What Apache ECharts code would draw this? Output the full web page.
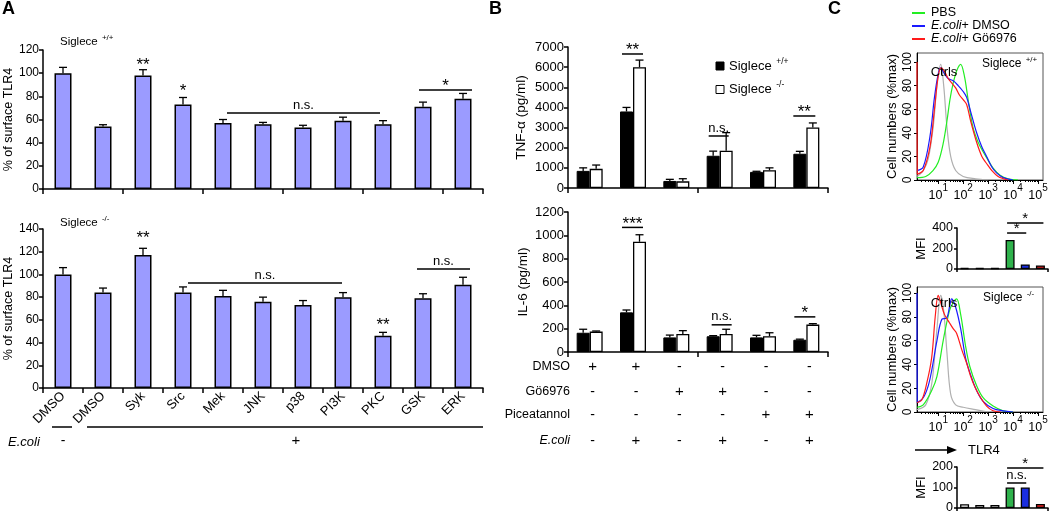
<!DOCTYPE html>
<html><head><meta charset="utf-8">
<script src="https://cdn.jsdelivr.net/npm/echarts@6/dist/echarts.min.js"></script>
<style>html,body{margin:0;padding:0;background:#fff}#c{width:1050px;height:513px}</style>
</head><body><div id="c"></div>
<script>
// ---------------- DATA ----------------
// Panel A: % of surface TLR4
const inhibitors = ['DMSO','DMSO','Syk','Src','Mek','JNK','p38','PI3K','PKC','GSK','ERK'];
const tlr4WT    = [100, 54, 98, 73, 57, 56, 53, 59, 56, 71, 78];
const tlr4WTErr = [5, 1.5, 5, 6, 3, 1.5, 2, 3, 3, 4, 4.5];
const tlr4KO    = [100, 84, 117, 84, 81, 76, 73, 80, 46, 79, 91];
const tlr4KOErr = [6, 4, 6, 5, 5, 4, 4, 4, 3, 4, 6.5];
const ecoliA    = ['-', '+'];

// Panel B: cytokines
const conditions = ['DMSO','DMSO+E.coli','Gö6976','Gö6976+E.coli','Piceatannol','Piceatannol+E.coli'];
const tnfWT    = [850, 3800, 350, 1600, 800, 1700];
const tnfWTErr = [150, 200, 80, 230, 30, 120];
const tnfKO    = [950, 6000, 330, 1850, 880, 3000];
const tnfKOErr = [190, 350, 130, 900, 120, 230];
const il6WT    = [165, 340, 125, 135, 125, 105];
const il6WTErr = [30, 20, 20, 5, 18, 5];
const il6KO    = [175, 945, 155, 155, 135, 235];
const il6KOErr = [5, 60, 28, 40, 30, 8];
const rowDMSO  = ['+','+','-','-','-','-'];
const rowGo    = ['-','-','+','+','-','-'];
const rowPice  = ['-','-','-','-','+','+'];
const rowEcoli = ['-','+','-','+','-','+'];

// Panel C: flow histograms, x = log10(TLR4), y = % max
const decadeTicks = [1, 2, 3, 4, 5];
const pctTicks = [0, 20, 40, 60, 80, 100];
const histWTgray  = [[0.15,3],[0.4,8],[0.6,18],[0.8,45],[0.95,80],[1.1,98],[1.22,80],[1.35,45],[1.5,20],[1.7,8],[2.0,3],[2.5,1],[3.0,0]];
const histWTblue  = [[0.15,8],[0.4,11],[0.67,37],[0.85,70],[1.0,90],[1.1,95],[1.25,90],[1.4,86],[1.6,84],[1.8,80],[2.0,75],[2.14,70],[2.3,58],[2.54,40],[2.75,28],[2.94,20],[3.15,11],[3.34,6],[3.6,2],[4.0,0]];
const histWTred   = [[0.15,100],[0.16,5],[0.4,8],[0.67,28],[0.85,60],[1.0,88],[1.12,95],[1.25,92],[1.4,86],[1.55,82],[1.7,78],[1.85,72],[2.0,68],[2.14,64],[2.3,50],[2.54,32],[2.75,20],[2.94,14],[3.15,8],[3.4,3],[3.8,0]];
const histWTgreen = [[0.15,2],[0.5,3],[0.79,8],[1.0,15],[1.2,31],[1.35,50],[1.47,68],[1.6,82],[1.75,93],[1.9,98],[2.05,88],[2.2,68],[2.39,45],[2.6,32],[2.8,24],[2.94,19],[3.2,10],[3.48,4],[3.8,1],[4.2,0]];
const histKOgray  = [[0.15,2],[0.5,6],[0.75,25],[0.95,70],[1.1,98],[1.22,85],[1.35,50],[1.5,15],[1.7,6],[2.0,4],[2.5,2],[3.0,0]];
const histKOred   = [[0.15,8],[0.34,10],[0.55,25],[0.74,46],[0.88,80],[1.0,98],[1.1,92],[1.25,82],[1.45,75],[1.6,70],[1.74,66],[1.95,52],[2.14,41],[2.3,30],[2.47,21],[2.7,12],[2.94,5],[3.2,1],[3.5,0]];
const histKOblue  = [[0.15,100],[0.16,8],[0.4,12],[0.6,22],[0.74,35],[0.95,60],[1.15,78],[1.34,79],[1.45,88],[1.54,95],[1.7,88],[1.9,70],[2.1,45],[2.27,33],[2.54,18],[2.8,9],[3.2,3],[3.6,1],[4.0,0]];
const histKOgreen = [[0.15,4],[0.4,6],[0.74,18],[0.95,30],[1.2,60],[1.45,85],[1.6,92],[1.74,95],[1.9,82],[2.1,55],[2.27,38],[2.54,22],[2.8,12],[3.2,5],[3.6,1],[4.0,0]];
const mfiCats = ['ctrl1','ctrl2','ctrl3','PBS','E.coli+DMSO','E.coli+Gö6976'];
const mfiWT = [10, 10, 10, 283, 45, 35];
const mfiKO = [18, 15, 15, 100, 100, 20];

// ---------------- STYLE ----------------
const FONT = '"Liberation Sans", Arial, Helvetica, sans-serif';
const mfiColors = ['#ffffff','#ffffff','#ffffff','#2fb24c','#1a2ee0','#e82020'];
const minorTicks = [];
for (let d = 0; d < 5; d++) for (let k = 2; k <= 9; k++) { const v = d + Math.log10(k); if (v > 0.15 && v < 5.2) minorTicks.push(v); }

const chart = echarts.init(document.getElementById('c'), null, {renderer:'canvas', width:1050, height:513});

function grid(l, t, w, h, extra) {
  return Object.assign({left:l, top:t, width:w, height:h, containLabel:false, outerBoundsMode:'none'}, extra || {});
}
const blackLine = {color:'#000', width:1.5};
function catX(g, data, extra) {
  return Object.assign({type:'category', gridIndex:g, data:data, position:'bottom',
    axisLine:{show:true, lineStyle:blackLine}, axisTick:{show:true, length:5, lineStyle:blackLine},
    axisLabel:{show:false}, splitLine:{show:false}}, extra || {});
}
function valY(g, max, interval, name, nameGap, fs, extra) {
  return Object.assign({type:'value', gridIndex:g, min:0, max:max, interval:interval,
    splitLine:{show:false}, axisLine:{show:true, lineStyle:blackLine},
    axisTick:{show:true, length:4, lineStyle:blackLine},
    axisLabel:{color:'#000', fontSize:fs, fontFamily:FONT, margin:4, formatter:v => String(v)},
    name:name, nameLocation:'middle', nameGap:nameGap,
    nameTextStyle:{color:'#000', fontSize:fs + 0.5, fontFamily:FONT}}, extra || {});
}
function histX(g) {
  return {type:'value', gridIndex:g, position:'bottom', min:0.15, max:5.2, splitLine:{show:false},
    axisLine:{show:true, lineStyle:{color:'#000', width:1}},
    axisTick:{show:true, length:4, customValues:decadeTicks, lineStyle:{color:'#000'}},
    axisLabel:{show:true, customValues:decadeTicks, formatter:v => '{b|10}{s|' + Math.round(v) + '}',
      margin:3,
      rich:{b:{color:'#000', fontSize:12.5, fontFamily:FONT, lineHeight:19, verticalAlign:'bottom'},
            s:{color:'#000', fontSize:10, fontFamily:FONT, lineHeight:19, verticalAlign:'top'}}}};
}
function histMinorX(g) {
  return {type:'value', gridIndex:g, position:'bottom', min:0.15, max:5.2, splitLine:{show:false},
    axisLine:{show:false}, axisTick:{show:true, length:2, customValues:minorTicks, lineStyle:{color:'#000'}},
    axisLabel:{show:false}};
}
function histY(g, max) {
  return {type:'value', gridIndex:g, min:0, max:max, splitLine:{show:false},
    axisLine:{show:true, lineStyle:{color:'#000', width:1}},
    axisTick:{show:true, length:3, customValues:pctTicks, lineStyle:{color:'#000'}},
    axisLabel:{customValues:pctTicks, rotate:90, color:'#000', fontSize:12, fontFamily:FONT, margin:3},
    name:'Cell numbers (%max)', nameLocation:'middle', nameGap:18,
    nameTextStyle:{color:'#000', fontSize:13, fontFamily:FONT}};
}
function errBars(xi, yi, vals, errs, off, cap) {
  return {type:'custom', xAxisIndex:xi, yAxisIndex:yi, z:5, silent:true,
    data: vals.map((v, i) => [i, v, errs[i]]),
    renderItem: (params, api) => {
      const i = api.value(0), v = api.value(1), e = api.value(2);
      const a = api.coord([i, v]), b = api.coord([i, v + e]);
      const x = a[0] + off;
      const st = {stroke:'#000', lineWidth:1.3};
      return {type:'group', children:[
        {type:'line', shape:{x1:x, y1:a[1], x2:x, y2:b[1]}, style:st},
        {type:'line', shape:{x1:x - cap, y1:b[1], x2:x + cap, y2:b[1]}, style:st}]};
    }};
}
function histLine(xi, yi, data, color, z) {
  return {type:'line', xAxisIndex:xi, yAxisIndex:yi, data:data, smooth:0.35, symbol:'none', silent:true,
    z:z, lineStyle:{color:color, width:1.2}};
}
const boxed = {show:true, borderColor:'#555', borderWidth:1, backgroundColor:'transparent'};

const option = {
  animation:false,
  backgroundColor:'#fff',
  textStyle:{fontFamily:FONT},
  grid:[
    grid(43, 50, 440, 139),
    grid(43, 229, 440, 159),
    grid(568, 47, 260, 141),
    grid(568, 212, 260, 140),
    grid(917, 53, 126, 127, boxed),
    grid(957, 228, 91, 41),
    grid(917, 287, 126, 125, boxed),
    grid(957, 467, 91, 41)
  ],
  xAxis:[
    catX(0, inhibitors),
    catX(1, inhibitors, {axisLabel:{show:true, interval:0, rotate:45, color:'#000', fontSize:13, fontFamily:FONT, margin:6}}),
    catX(2, conditions),
    catX(3, conditions),
    histX(4), histMinorX(4),
    catX(5, mfiCats, {axisTick:{show:true, length:3, lineStyle:blackLine}}),
    histX(6), histMinorX(6),
    catX(7, mfiCats, {axisTick:{show:true, length:3, lineStyle:blackLine}})
  ],
  yAxis:[
    valY(0, 120, 20, '% of surface TLR4', 27, 12),
    valY(1, 140, 20, '% of surface TLR4', 27, 12),
    valY(2, 7000, 1000, 'TNF-α (pg/ml)', 40, 13),
    valY(3, 1200, 200, 'IL-6 (pg/ml)', 38, 13),
    histY(4, 107.6),
    valY(5, 400, 200, 'MFI', 28, 12.5, {axisTick:{show:true, length:3, lineStyle:blackLine}}),
    histY(6, 105),
    valY(7, 200, 100, 'MFI', 28, 12.5, {axisTick:{show:true, length:3, lineStyle:blackLine}})
  ],
  series:[
    {type:'bar', xAxisIndex:0, yAxisIndex:0, data:tlr4WT, barWidth:17, silent:true,
      itemStyle:{color:'#9b9bff', borderColor:'#000', borderWidth:1.5}},
    errBars(0, 0, tlr4WT, tlr4WTErr, 0, 4),
    {type:'bar', xAxisIndex:1, yAxisIndex:1, data:tlr4KO, barWidth:17, silent:true,
      itemStyle:{color:'#9b9bff', borderColor:'#000', borderWidth:1.5}},
    errBars(1, 1, tlr4KO, tlr4KOErr, 0, 4),

    {type:'bar', xAxisIndex:2, yAxisIndex:2, data:tnfWT, barWidth:13, barGap:'0%', silent:true,
      itemStyle:{color:'#000', borderColor:'#000', borderWidth:1}},
    {type:'bar', xAxisIndex:2, yAxisIndex:2, data:tnfKO, barWidth:13, barGap:'0%', silent:true,
      itemStyle:{color:'#fff', borderColor:'#000', borderWidth:1.3}},
    errBars(2, 2, tnfWT, tnfWTErr, -6.5, 4),
    errBars(2, 2, tnfKO, tnfKOErr, 6.5, 4),
    {type:'bar', xAxisIndex:3, yAxisIndex:3, data:il6WT, barWidth:13, barGap:'0%', silent:true,
      itemStyle:{color:'#000', borderColor:'#000', borderWidth:1}},
    {type:'bar', xAxisIndex:3, yAxisIndex:3, data:il6KO, barWidth:13, barGap:'0%', silent:true,
      itemStyle:{color:'#fff', borderColor:'#000', borderWidth:1.3}},
    errBars(3, 3, il6WT, il6WTErr, -6.5, 4),
    errBars(3, 3, il6KO, il6KOErr, 6.5, 4),

    histLine(4, 4, histWTgray, '#b0b0b0', 2),
    histLine(4, 4, histWTgreen, '#22ee22', 3),
    histLine(4, 4, histWTblue, '#1a1aff', 4),
    histLine(4, 4, histWTred, '#ff1a1a', 5),
    {type:'bar', xAxisIndex:6, yAxisIndex:5, barWidth:9, silent:true,
      data: mfiWT.map((v, i) => ({value:v, itemStyle:{color:mfiColors[i]}})),
      itemStyle:{borderColor:'#000', borderWidth:1.3}},
    histLine(7, 6, histKOgray, '#b0b0b0', 2),
    histLine(7, 6, histKOgreen, '#22ee22', 3),
    histLine(7, 6, histKOblue, '#1a1aff', 4),
    histLine(7, 6, histKOred, '#ff1a1a', 5),
    {type:'bar', xAxisIndex:9, yAxisIndex:7, barWidth:9, silent:true,
      data: mfiKO.map((v, i) => ({value:v, itemStyle:{color:mfiColors[i]}})),
      itemStyle:{borderColor:'#000', borderWidth:1.3}}
  ]
};
chart.setOption(option);

// ---------------- ANNOTATIONS ----------------
const mctx = document.createElement('canvas').getContext('2d');
function tw(t, font) { mctx.font = font; return mctx.measureText(t).width; }
function P(g, i, v) { return chart.convertToPixel({gridIndex:g}, [i, v]); }
const G = [];
function txt(x, y, t, size, opts) {
  opts = opts || {};
  G.push({type:'text', x:x, y:y, z:100, silent:true, style:Object.assign({text:t,
    font:(opts.style || '') + ' ' + size + 'px ' + FONT, fill:'#000',
    textAlign:opts.align || 'left', textVerticalAlign:opts.valign || 'middle'}, opts.extra || {})});
}
function line(x1, y1, x2, y2, w, color) {
  G.push({type:'line', z:100, silent:true, shape:{x1:x1, y1:y1, x2:x2, y2:y2}, style:{stroke:color || '#000', lineWidth:w || 1.5}});
}
function supLabel(x, y, main, sup, size, supSize) {
  const f = size + 'px ' + FONT;
  txt(x, y, main, size);
  txt(x + tw(main + ' ', f) + 1, y - size * 0.35, sup, supSize);
}
function star(x, yc, t, size) { txt(x, yc + size * 0.22, t, size, {align:'center'}); }
// brackets: a..b category indexes, v = value level, l/r = pixel extension
function bracket(g, a, b, v, t, l, r, starSize) {
  const pa = P(g, a, v), pb = P(g, b, v);
  const x1 = pa[0] + l, x2 = pb[0] + r, y = pa[1];
  line(x1, y, x2, y, 1.5);
  if (t === 'n.s.') txt((x1 + x2) / 2, y - 8, t, 13, {align:'center'});
  else star((x1 + x2) / 2, y - 7, t, starSize || 17);
}
function barStar(g, i, v, t, size) { const p = P(g, i, v); star(p[0], p[1], t, size || 17); }

// Panel letters
txt(2, 9, 'A', 18, {style:'bold'});
txt(489, 9, 'B', 18, {style:'bold'});
txt(828, 9, 'C', 18, {style:'bold'});

// Panel A
supLabel(60, 42, 'Siglece', '+/+', 11.5, 8);
supLabel(60, 223, 'Siglece', '-/-', 11.5, 8);
barStar(0, 2, 109.7, '**');
barStar(0, 3, 87.2, '*');
bracket(0, 4, 8, 65.6, 'n.s.', 4, -3);
bracket(0, 9, 10, 85.5, '*', -4, 9);
barStar(1, 2, 134.7, '**');
bracket(1, 3, 7, 92.5, 'n.s.', 5, -1);
barStar(1, 8, 58.1, '**');
bracket(1, 9, 10, 104.8, 'n.s.', -6, 7);
txt(8, 442, 'E.coli', 13, {style:'italic'});
{
  const p0 = P(1, 0, 0);
  txt(p0[0], 441, ecoliA[0], 14, {align:'center'});
  line(52, 427, 72, 427, 1.5);
  line(87, 427, 483, 427, 1.5);
  txt(296, 441, ecoliA[1], 15, {align:'center'});
}

// Panel B legend
G.push({type:'rect', z:100, silent:true, shape:{x:716, y:62, width:8, height:8}, style:{fill:'#000', stroke:'#000', lineWidth:1}});
G.push({type:'rect', z:100, silent:true, shape:{x:716, y:85.5, width:8, height:8}, style:{fill:'#fff', stroke:'#000', lineWidth:1}});
supLabel(729, 66, 'Siglece', '+/+', 13, 8.5);
supLabel(729, 89.5, 'Siglece', '-/-', 13, 8.5);
// Panel B significance
bracket(2, 1, 1, 6653, '**', -11, 10);
bracket(2, 3, 3, 2582, 'n.s.', -11, 9);
bracket(2, 5, 5, 3575, '**', -13, 9);
bracket(3, 1, 1, 1068, '***', -11, 10);
bracket(3, 3, 3, 233, 'n.s.', -8, 12);
bracket(3, 5, 5, 301, '*', -12, 9);
// Panel B table
const rows = [['DMSO', rowDMSO, 367, ''], ['Gö6976', rowGo, 392, ''], ['Piceatannol', rowPice, 415, ''], ['E.coli', rowEcoli, 441, 'italic']];
rows.forEach(r => {
  txt(570, r[2], r[0], 12.5, {align:'right', style:r[3]});
  r[1].forEach((s, i) => {
    const p = P(3, i, 0);
    txt(p[0] + 3, r[2], s, s === '+' ? 15 : 14, {align:'center'});
  });
});

// Panel C legend
[['#22ee22', 13, '{n|PBS}'], ['#1a1aff', 26, '{i|E.coli}{n|+ DMSO}'], ['#ff1a1a', 39, '{i|E.coli}{n|+ Gö6976}']].forEach(l => {
  line(912, l[1], 925, l[1], 2, l[0]);
  G.push({type:'text', x:931, y:l[1], z:100, silent:true, style:{text:l[2], textVerticalAlign:'middle',
    rich:{n:{font:'12.5px ' + FONT, fill:'#000'}, i:{font:'italic 12.5px ' + FONT, fill:'#000'}}}});
});
txt(944, 72, 'Ctrls', 13, {align:'center'});
txt(944, 303, 'Ctrls', 13, {align:'center'});
supLabel(982, 64, 'Siglece', '+/+', 12, 8);
supLabel(983, 298, 'Siglece', '-/-', 12, 8);
bracket(5, 3, 5, 449, '*', -3, 3, 15);
bracket(5, 3, 4, 351, '*', -3, 1, 15);
bracket(7, 3, 5, 195, '*', -3, 3, 15);
bracket(7, 3, 4, 122, 'n.s.', -3, 1);
// TLR4 arrow
line(915, 450, 948, 450, 1.5);
G.push({type:'polygon', z:100, silent:true, shape:{points:[[947, 446], [957, 450], [947, 454]]}, style:{fill:'#000'}});
txt(968, 450, 'TLR4', 13);

chart.setOption({graphic:{elements:G}});
</script>
</body></html>
